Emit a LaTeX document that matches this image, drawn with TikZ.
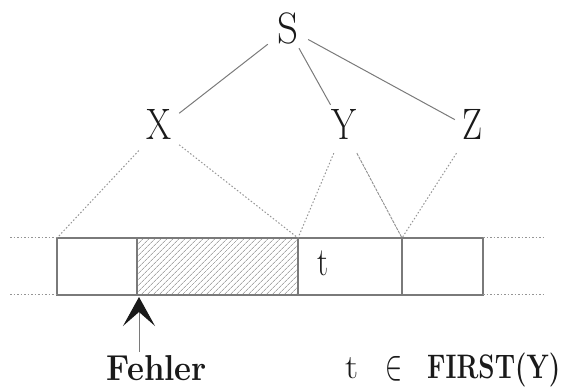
\documentclass[tikz,border=0pt]{standalone}
\usepackage{graphicx}
\usetikzlibrary{arrows.meta,patterns.meta}
\definecolor{ink}{HTML}{1A1A1A}
\definecolor{linegray}{HTML}{7A7A7A}
\begin{document}
\begin{tikzpicture}[x=1pt,y=-1pt,
  sym/.style={inner sep=0pt,minimum width=40pt,text height=35pt,text depth=13pt,anchor=base,text=ink,font=\fontsize{44}{50}\selectfont},
  tree/.style={draw=linegray,line width=1pt},
  dots/.style={draw=linegray!80,line width=1pt,dash pattern=on 1.5pt off 2pt},
  thinline/.style={draw=linegray!85,line width=0.9pt,dash pattern=on 3pt off 1pt},
  cell/.style={draw=linegray,line width=1.2pt},
  lbl/.style={inner sep=0pt,text=ink}]
\useasboundingbox (0,0) rectangle (565,387);
% tree nodes
\node[sym,text depth=4pt] (S) at (288,44) {\resizebox{21pt}{\height}{S}};
\node[sym] (X) at (159,140) {\resizebox{25pt}{\height}{X}};
\node[sym] (Y) at (344,140) {\resizebox{25pt}{\height}{Y}};
\node[sym,minimum width=34pt] (Z) at (472,140) {\resizebox{20pt}{\height}{Z}};
% tape coordinates
\coordinate (b0) at (57,238);
\coordinate (b1) at (137,238);
\coordinate (b2) at (298,238);
\coordinate (b3) at (402,238);
\coordinate (b4) at (483,238);
\coordinate (c0) at (57,295);
\coordinate (c1) at (137,295);
\coordinate (c2) at (298,295);
\coordinate (c3) at (402,295);
\coordinate (c4) at (483,295);
\coordinate (l0) at (10,238);
\coordinate (l1) at (10,295);
\coordinate (r0) at (543,238);
\coordinate (r1) at (543,295);
% hatched cell
\fill[pattern={Lines[angle=45,distance=4pt,line width=0.6pt]},pattern color=linegray] (b1) rectangle (c2);
% tape
\draw[cell] (b0) rectangle (c4);
\draw[cell] (b1) -- (c1);
\draw[cell] (b2) -- (c2);
\draw[cell] (b3) -- (c3);
\draw[dots] (l0) -- (b0);
\draw[dots] (l1) -- (c0);
\draw[dots] (b4) -- (r0);
\draw[dots] (c4) -- (r1);
% tree edges
\draw[tree] (S) -- (X);
\draw[tree] (S) -- (Y);
\draw[tree] (S) -- (Z);
\draw[dots] (X) -- (b0);
\draw[dots] (X) -- (b2);
\draw[dots] (Y) -- (b2);
\draw[thinline] (Y) -- (b3);
\draw[dots] (Z) -- (b3);
% t in cell
\node[lbl,anchor=base,font=\fontsize{40}{44}\selectfont] (t) at (322.5,276) {\resizebox{11pt}{\height}{t}};
% Fehler arrow
\node[lbl,anchor=base,font=\fontsize{36}{40}\selectfont\bfseries] (F) at (157,381) {\resizebox{100pt}{\height}{Fehler}};
\coordinate (atail) at (139,352);
\coordinate (atip) at (139,297);
\draw[linegray,line width=1pt,-{Stealth[length=29pt,width=32pt,inset=14pt,color=ink]}] (atail) -- (atip);
% FIRST label
\node[lbl,anchor=base west,font=\fontsize{34}{40}\selectfont] (first) at (345,378) {\resizebox{13pt}{\height}{t}\hspace{27pt}\raisebox{-1pt}{\resizebox{17pt}{23pt}{$\in$}}\hspace{25pt}\resizebox{133pt}{\height}{\bfseries FIRST(Y)}};
\end{tikzpicture}
\end{document}
